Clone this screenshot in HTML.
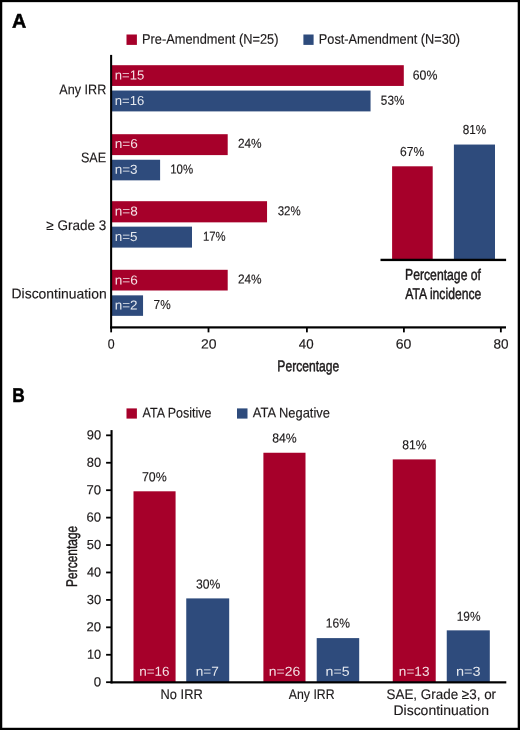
<!DOCTYPE html>
<html lang="en">
<head>
<meta charset="utf-8">
<title>Figure: IRR incidence pre- and post-amendment; ATA status</title>
<style>
html,body{margin:0;padding:0;background:#fff;}
body{width:520px;height:730px;overflow:hidden;}
svg{display:block;}
text{font-family:"Liberation Sans","DejaVu Sans",sans-serif;text-rendering:geometricPrecision;}
</style>
</head>
<body>
<svg width="520" height="730" viewBox="0 0 520 730" role="img" aria-label="Bar charts of IRR incidence pre- and post-amendment and by ATA status">
<rect x="0" y="0" width="520" height="730" fill="#ffffff"/>
<!-- panel A bars -->
<rect x="111.00" y="65.20" width="292.80" height="20.75" fill="#a6002a"/>
<rect x="111.00" y="90.55" width="259.55" height="20.85" fill="#2e4b7c"/>
<rect x="111.00" y="134.20" width="116.70" height="20.90" fill="#a6002a"/>
<rect x="111.00" y="159.75" width="49.10" height="20.60" fill="#2e4b7c"/>
<rect x="111.00" y="201.20" width="156.05" height="21.15" fill="#a6002a"/>
<rect x="111.00" y="226.65" width="81.00" height="20.95" fill="#2e4b7c"/>
<rect x="111.00" y="269.80" width="116.70" height="20.70" fill="#a6002a"/>
<rect x="111.00" y="295.35" width="32.05" height="20.50" fill="#2e4b7c"/>
<rect x="126.50" y="34.50" width="10.40" height="10.40" fill="#a6002a"/>
<rect x="303.40" y="34.50" width="10.20" height="10.40" fill="#2e4b7c"/>
<rect x="392.10" y="166.30" width="40.60" height="93.20" fill="#a6002a"/>
<rect x="453.90" y="144.55" width="41.10" height="114.95" fill="#2e4b7c"/>
<rect x="380.50" y="258.75" width="125.60" height="2.35" fill="#000"/>
<rect x="110.10" y="54.90" width="2.05" height="273.60" fill="#000"/>
<rect x="110.10" y="326.30" width="395.90" height="2.20" fill="#000"/>
<rect x="110.25" y="327.00" width="1.80" height="5.35" fill="#000"/>
<rect x="207.60" y="327.00" width="1.80" height="5.35" fill="#000"/>
<rect x="306.00" y="327.00" width="1.80" height="5.35" fill="#000"/>
<rect x="403.00" y="327.00" width="1.80" height="5.35" fill="#000"/>
<rect x="499.95" y="327.00" width="1.80" height="5.35" fill="#000"/>
<!-- panel B bars -->
<rect x="133.50" y="491.30" width="42.08" height="191.20" fill="#a6002a"/>
<rect x="186.25" y="598.40" width="42.95" height="84.10" fill="#2e4b7c"/>
<rect x="263.40" y="452.75" width="42.10" height="229.75" fill="#a6002a"/>
<rect x="316.70" y="638.10" width="42.50" height="44.40" fill="#2e4b7c"/>
<rect x="392.75" y="459.40" width="42.97" height="223.10" fill="#a6002a"/>
<rect x="446.75" y="630.35" width="43.05" height="52.15" fill="#2e4b7c"/>
<rect x="126.50" y="408.40" width="10.40" height="10.20" fill="#a6002a"/>
<rect x="237.00" y="408.40" width="10.50" height="10.20" fill="#2e4b7c"/>
<rect x="110.50" y="430.10" width="2.10" height="253.30" fill="#000"/>
<rect x="110.50" y="681.25" width="395.80" height="2.20" fill="#000"/>
<rect x="106.10" y="681.30" width="4.90" height="1.80" fill="#000"/>
<rect x="106.10" y="653.87" width="4.90" height="1.80" fill="#000"/>
<rect x="106.10" y="626.44" width="4.90" height="1.80" fill="#000"/>
<rect x="106.10" y="599.01" width="4.90" height="1.80" fill="#000"/>
<rect x="106.10" y="571.58" width="4.90" height="1.80" fill="#000"/>
<rect x="106.10" y="544.15" width="4.90" height="1.80" fill="#000"/>
<rect x="106.10" y="516.72" width="4.90" height="1.80" fill="#000"/>
<rect x="106.10" y="489.29" width="4.90" height="1.80" fill="#000"/>
<rect x="106.10" y="461.86" width="4.90" height="1.80" fill="#000"/>
<rect x="106.10" y="434.43" width="4.90" height="1.80" fill="#000"/>
<!-- text -->
<text transform="matrix(0.9887 0.000989 0 1 12.01 27.79)" font-size="20" fill="#000" font-weight="700" stroke="#000" stroke-width="0.5" stroke-linejoin="round">A</text>
<text transform="matrix(0.9152 0.000915 0 1 142.06 43.73)" font-size="14" fill="#1c191a" stroke="#1c191a" stroke-width="0.15" stroke-linejoin="round">Pre-Amendment (N=25)</text>
<text transform="matrix(0.9098 0.000910 0 1 318.86 43.73)" font-size="14" fill="#1c191a" stroke="#1c191a" stroke-width="0.15" stroke-linejoin="round">Post-Amendment (N=30)</text>
<text transform="matrix(0.9010 0.000901 0 1 59.30 94.18)" font-size="14" fill="#1c191a" stroke="#1c191a" stroke-width="0.15" stroke-linejoin="round">Any IRR</text>
<text transform="matrix(0.9009 0.000901 0 1 80.92 162.19)" font-size="14" fill="#1c191a" stroke="#1c191a" stroke-width="0.15" stroke-linejoin="round">SAE</text>
<text transform="matrix(0.9672 0.000967 0 1 46.22 230.07)" font-size="14" fill="#1c191a" stroke="#1c191a" stroke-width="0.15" stroke-linejoin="round">≥ Grade 3</text>
<text transform="matrix(0.9936 0.000994 0 1 11.56 298.35)" font-size="14" fill="#1c191a" stroke="#1c191a" stroke-width="0.15" stroke-linejoin="round">Discontinuation</text>
<text transform="matrix(1.0090 0.001009 0 1 114.69 79.49)" font-size="13.0" fill="#ffffff" fill-opacity="0.88">n=15</text>
<text transform="matrix(1.0090 0.001009 0 1 114.69 105.09)" font-size="13.0" fill="#ffffff" fill-opacity="0.88">n=16</text>
<text transform="matrix(1.0488 0.001049 0 1 114.65 148.09)" font-size="13.0" fill="#ffffff" fill-opacity="0.88">n=6</text>
<text transform="matrix(1.0390 0.001039 0 1 114.66 173.69)" font-size="13.0" fill="#ffffff" fill-opacity="0.88">n=3</text>
<text transform="matrix(1.0439 0.001044 0 1 114.66 215.49)" font-size="13.0" fill="#ffffff" fill-opacity="0.88">n=8</text>
<text transform="matrix(1.0390 0.001039 0 1 114.66 240.89)" font-size="13.0" fill="#ffffff" fill-opacity="0.88">n=5</text>
<text transform="matrix(1.0488 0.001049 0 1 114.65 284.49)" font-size="13.0" fill="#ffffff" fill-opacity="0.88">n=6</text>
<text transform="matrix(1.0390 0.001039 0 1 114.66 309.49)" font-size="13.0" fill="#ffffff" fill-opacity="0.88">n=2</text>
<text transform="matrix(0.9495 0.000949 0 1 412.69 79.39)" font-size="13.0" fill="#1c191a" stroke="#1c191a" stroke-width="0.15" stroke-linejoin="round">60%</text>
<text transform="matrix(0.9040 0.000904 0 1 380.85 104.79)" font-size="13.0" fill="#1c191a" stroke="#1c191a" stroke-width="0.15" stroke-linejoin="round">53%</text>
<text transform="matrix(0.9131 0.000913 0 1 237.92 147.79)" font-size="13.0" fill="#1c191a" stroke="#1c191a" stroke-width="0.15" stroke-linejoin="round">24%</text>
<text transform="matrix(0.8816 0.000882 0 1 170.22 173.59)" font-size="13.0" fill="#1c191a" stroke="#1c191a" stroke-width="0.15" stroke-linejoin="round">10%</text>
<text transform="matrix(0.8840 0.000884 0 1 277.66 215.29)" font-size="13.0" fill="#1c191a" stroke="#1c191a" stroke-width="0.15" stroke-linejoin="round">32%</text>
<text transform="matrix(0.8735 0.000873 0 1 202.93 240.79)" font-size="13.0" fill="#1c191a" stroke="#1c191a" stroke-width="0.15" stroke-linejoin="round">17%</text>
<text transform="matrix(0.9131 0.000913 0 1 237.92 283.59)" font-size="13.0" fill="#1c191a" stroke="#1c191a" stroke-width="0.15" stroke-linejoin="round">24%</text>
<text transform="matrix(0.9086 0.000909 0 1 153.62 308.89)" font-size="13.0" fill="#1c191a" stroke="#1c191a" stroke-width="0.15" stroke-linejoin="round">7%</text>
<text transform="matrix(0.9231 0.000923 0 1 107.84 348.60)" font-size="13.4" fill="#1c191a" stroke="#1c191a" stroke-width="0.15" stroke-linejoin="round">0</text>
<text transform="matrix(1.0444 0.001044 0 1 201.02 348.59)" font-size="13.4" fill="#1c191a" stroke="#1c191a" stroke-width="0.15" stroke-linejoin="round">20</text>
<text transform="matrix(0.9929 0.000993 0 1 298.85 348.59)" font-size="13.4" fill="#1c191a" stroke="#1c191a" stroke-width="0.15" stroke-linejoin="round">40</text>
<text transform="matrix(1.0519 0.001052 0 1 395.71 348.59)" font-size="13.4" fill="#1c191a" stroke="#1c191a" stroke-width="0.15" stroke-linejoin="round">60</text>
<text transform="matrix(1.0109 0.001011 0 1 493.39 348.59)" font-size="13.4" fill="#1c191a" stroke="#1c191a" stroke-width="0.15" stroke-linejoin="round">80</text>
<text transform="matrix(0.7819 0.000782 0 1 277.32 371.27)" font-size="15.5" fill="#1c191a" stroke="#1c191a" stroke-width="0.45" stroke-linejoin="round">Percentage</text>
<text transform="matrix(0.9293 0.000929 0 1 400.00 155.99)" font-size="13.0" fill="#1c191a" stroke="#1c191a" stroke-width="0.15" stroke-linejoin="round">67%</text>
<text transform="matrix(0.9040 0.000904 0 1 462.65 133.99)" font-size="13.0" fill="#1c191a" stroke="#1c191a" stroke-width="0.15" stroke-linejoin="round">81%</text>
<text transform="matrix(0.7874 0.000787 0 1 405.02 279.86)" font-size="15.5" fill="#1c191a" stroke="#1c191a" stroke-width="0.45" stroke-linejoin="round">Percentage of</text>
<text transform="matrix(0.7854 0.000785 0 1 405.30 298.96)" font-size="15.5" fill="#1c191a" stroke="#1c191a" stroke-width="0.45" stroke-linejoin="round">ATA incidence</text>
<text transform="matrix(0.8653 0.000865 0 1 12.22 401.99)" font-size="20" fill="#000" font-weight="700" stroke="#000" stroke-width="0.5" stroke-linejoin="round">B</text>
<text transform="matrix(0.8912 0.000891 0 1 142.60 417.37)" font-size="14" fill="#1c191a" stroke="#1c191a" stroke-width="0.15" stroke-linejoin="round">ATA Positive</text>
<text transform="matrix(0.9241 0.000924 0 1 252.80 417.36)" font-size="14" fill="#1c191a" stroke="#1c191a" stroke-width="0.15" stroke-linejoin="round">ATA Negative</text>
<text transform="matrix(1.0240 0.001024 0 1 93.79 686.20)" font-size="13.0" fill="#1c191a" stroke="#1c191a" stroke-width="0.15" stroke-linejoin="round">0</text>
<text transform="matrix(0.9846 0.000985 0 1 86.92 658.76)" font-size="13.0" fill="#1c191a" stroke="#1c191a" stroke-width="0.15" stroke-linejoin="round">10</text>
<text transform="matrix(1.0113 0.001011 0 1 86.54 631.33)" font-size="13.0" fill="#1c191a" stroke="#1c191a" stroke-width="0.15" stroke-linejoin="round">20</text>
<text transform="matrix(0.9926 0.000993 0 1 86.80 603.90)" font-size="13.0" fill="#1c191a" stroke="#1c191a" stroke-width="0.15" stroke-linejoin="round">30</text>
<text transform="matrix(0.9745 0.000975 0 1 87.06 576.47)" font-size="13.0" fill="#1c191a" stroke="#1c191a" stroke-width="0.15" stroke-linejoin="round">40</text>
<text transform="matrix(0.9926 0.000993 0 1 86.80 549.04)" font-size="13.0" fill="#1c191a" stroke="#1c191a" stroke-width="0.15" stroke-linejoin="round">50</text>
<text transform="matrix(1.0113 0.001011 0 1 86.54 521.61)" font-size="13.0" fill="#1c191a" stroke="#1c191a" stroke-width="0.15" stroke-linejoin="round">60</text>
<text transform="matrix(1.0113 0.001011 0 1 86.54 494.18)" font-size="13.0" fill="#1c191a" stroke="#1c191a" stroke-width="0.15" stroke-linejoin="round">70</text>
<text transform="matrix(0.9926 0.000993 0 1 86.80 466.75)" font-size="13.0" fill="#1c191a" stroke="#1c191a" stroke-width="0.15" stroke-linejoin="round">80</text>
<text transform="matrix(0.9926 0.000993 0 1 86.80 439.32)" font-size="13.0" fill="#1c191a" stroke="#1c191a" stroke-width="0.15" stroke-linejoin="round">90</text>
<text transform="translate(76.90 586.96) rotate(-90) scale(0.7715 1)" font-size="15.5" fill="#1c191a" stroke="#1c191a" stroke-width="0.45" stroke-linejoin="round">Percentage</text>
<text transform="matrix(0.9535 0.000954 0 1 141.88 481.19)" font-size="13.0" fill="#1c191a" stroke="#1c191a" stroke-width="0.15" stroke-linejoin="round">70%</text>
<text transform="matrix(0.9360 0.000936 0 1 195.93 588.59)" font-size="13.0" fill="#1c191a" stroke="#1c191a" stroke-width="0.15" stroke-linejoin="round">30%</text>
<text transform="matrix(0.9440 0.000944 0 1 272.13 442.49)" font-size="13.0" fill="#1c191a" stroke="#1c191a" stroke-width="0.15" stroke-linejoin="round">84%</text>
<text transform="matrix(0.9306 0.000931 0 1 325.77 627.59)" font-size="13.0" fill="#1c191a" stroke="#1c191a" stroke-width="0.15" stroke-linejoin="round">16%</text>
<text transform="matrix(0.9360 0.000936 0 1 402.13 449.19)" font-size="13.0" fill="#1c191a" stroke="#1c191a" stroke-width="0.15" stroke-linejoin="round">81%</text>
<text transform="matrix(0.9184 0.000918 0 1 456.68 620.69)" font-size="13.0" fill="#1c191a" stroke="#1c191a" stroke-width="0.15" stroke-linejoin="round">19%</text>
<text transform="matrix(1.0378 0.001038 0 1 139.16 675.79)" font-size="13.0" fill="#ffffff" fill-opacity="0.88">n=16</text>
<text transform="matrix(1.0488 0.001049 0 1 195.65 675.79)" font-size="13.0" fill="#ffffff" fill-opacity="0.88">n=7</text>
<text transform="matrix(1.0739 0.001074 0 1 268.83 675.79)" font-size="13.0" fill="#ffffff" fill-opacity="0.88">n=26</text>
<text transform="matrix(1.0878 0.001088 0 1 325.61 675.79)" font-size="13.0" fill="#ffffff" fill-opacity="0.88">n=5</text>
<text transform="matrix(1.0450 0.001045 0 1 398.85 675.79)" font-size="13.0" fill="#ffffff" fill-opacity="0.88">n=13</text>
<text transform="matrix(1.1171 0.001117 0 1 455.88 675.79)" font-size="13.0" fill="#ffffff" fill-opacity="0.88">n=3</text>
<text transform="matrix(0.9182 0.000918 0 1 160.55 698.88)" font-size="14" fill="#1c191a" stroke="#1c191a" stroke-width="0.15" stroke-linejoin="round">No IRR</text>
<text transform="matrix(0.8777 0.000878 0 1 288.80 698.88)" font-size="14" fill="#1c191a" stroke="#1c191a" stroke-width="0.15" stroke-linejoin="round">Any IRR</text>
<text transform="matrix(0.9589 0.000959 0 1 386.48 698.95)" font-size="14" fill="#1c191a" stroke="#1c191a" stroke-width="0.15" stroke-linejoin="round">SAE, Grade ≥3, or</text>
<text transform="matrix(0.9979 0.000998 0 1 393.45 714.95)" font-size="14" fill="#1c191a" stroke="#1c191a" stroke-width="0.15" stroke-linejoin="round">Discontinuation</text>
<!-- frame -->
<rect x="0.00" y="0.00" width="520.00" height="2.15" fill="#000"/>
<rect x="0.00" y="727.78" width="520.00" height="2.22" fill="#000"/>
<rect x="0.00" y="0.00" width="2.25" height="730.00" fill="#000"/>
<rect x="517.70" y="0.00" width="2.30" height="730.00" fill="#000"/>
</svg>
</body>
</html>
